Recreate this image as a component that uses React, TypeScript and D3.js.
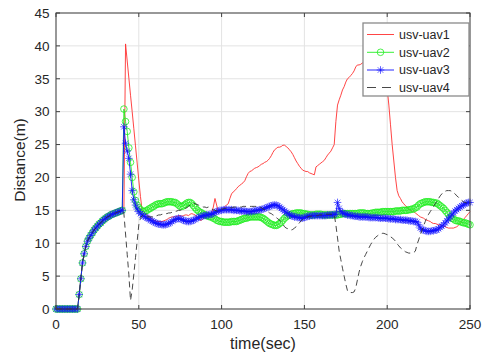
import React from 'react';
import * as d3 from 'd3';

// time samples (sec), every 1 s
const timeSec: number[] = d3.range(0, 251, 1);

// shared start-up phase, t = 0..40 s
const startPhase: number[] = [
  0, 0, 0, 0, 0, 0, 0, 0, 0, 0, 0, 0, 0,
  0.0, 2.2, 4.6, 7.0, 8.4, 9.5, 10.3, 10.8, 11.2, 11.6, 12.0, 12.3, 12.6, 12.9, 13.1,
  13.4, 13.6, 13.8, 14.0, 14.1, 14.3, 14.4, 14.5, 14.6, 14.7, 14.8, 14.9, 15.0,
];

// t = 41..250 s
const uav1Tail: number[] = [
  15.0, 40.3, 37.7, 35.1, 32.5, 30.0, 27.4, 24.8, 22.2, 19.6,
  17.1, 15.0, 14.7, 14.5, 14.3, 14.1, 13.9, 13.7, 13.5, 13.4,
  13.3, 13.3, 13.3, 13.3, 13.4, 13.5, 13.6, 13.8, 13.9, 14.0,
  14.0, 14.0, 14.1, 14.2, 14.2, 14.1, 14.2, 14.3, 14.3, 14.2,
  14.4, 14.5, 14.4, 14.3, 14.0, 13.8, 13.5, 13.5, 13.8, 14.0,
  14.2, 14.3, 14.4, 14.6, 15.5, 16.8, 15.8, 14.8, 14.8, 15.0,
  15.3, 15.6, 15.8, 16.0, 16.8, 17.5, 17.8, 18.0, 18.3, 18.6,
  18.8, 19.0, 19.2, 19.5, 20.1, 20.6, 20.9, 21.0, 21.2, 21.4,
  21.5, 21.6, 21.8, 22.0, 22.1, 22.3, 22.4, 22.6, 22.9, 23.3,
  23.8, 24.2, 24.4, 24.6, 24.6, 24.7, 24.9, 24.9, 24.7, 24.5,
  24.2, 23.9, 23.5, 23.0, 22.5, 22.1, 21.7, 21.4, 21.1, 21.0,
  20.9, 20.9, 20.7, 20.6, 20.5, 20.4, 21.6, 21.8, 22.0, 22.2,
  22.4, 22.6, 23.0, 23.4, 23.7, 24.0, 24.5, 25.0, 28.5, 31.0,
  31.8, 32.5, 33.3, 33.8, 34.5, 35.0, 35.2, 35.5, 35.8, 36.2,
  36.8, 37.1, 37.1, 37.2, 37.4, 37.5, 37.6, 37.6, 37.7, 37.7,
  37.8, 37.8, 37.8, 37.7, 37.6, 37.5, 37.2, 36.5, 35.2, 33.5,
  31.0, 28.0, 25.0, 22.5, 20.0, 18.0, 17.2, 16.8, 16.3, 16.0,
  15.7, 15.5, 15.2, 15.0, 14.9, 14.8, 14.6, 14.4, 14.2, 14.0,
  13.9, 13.8, 13.6, 13.5, 13.4, 13.3, 13.1, 13.0, 13.0, 12.9,
  12.8, 12.8, 12.7, 12.6, 12.5, 12.4, 12.3, 12.3, 12.3, 12.3,
  12.4, 12.5, 12.7, 13.0, 13.3, 13.6, 13.9, 14.2, 14.5, 14.8,
];

const uav2Tail: number[] = [
  30.4, 28.5, 27.0, 24.5, 22.3, 20.0, 17.8, 16.5, 15.8, 15.4,
  15.1, 14.9, 14.8, 14.9, 15.0, 15.2, 15.3, 15.5, 15.6, 15.8,
  15.9, 16.0, 16.0, 16.0, 16.1, 16.2, 16.3, 16.3, 16.3, 16.3,
  16.2, 16.2, 16.0, 15.8, 15.6, 15.6, 15.7, 15.9, 16.1, 16.2,
  16.2, 16.0, 15.7, 15.4, 15.1, 14.9, 14.7, 14.6, 14.4, 14.3,
  14.2, 14.1, 14.0, 14.0, 13.8, 13.7, 13.5, 13.4, 13.3, 13.3,
  13.2, 13.2, 13.2, 13.2, 13.2, 13.3, 13.3, 13.3, 13.3, 13.4,
  13.5, 13.6, 13.7, 13.8, 13.8, 13.9, 14.0, 14.0, 14.0, 14.0,
  14.0, 14.0, 14.0, 13.9, 13.8, 13.6, 13.4, 13.2, 13.0, 12.9,
  12.8, 12.7, 12.7, 12.8, 13.0, 13.2, 13.5, 13.8, 14.0, 14.2,
  14.3, 14.4, 14.5, 14.5, 14.6, 14.6, 14.6, 14.6, 14.5, 14.5,
  14.4, 14.4, 14.3, 14.3, 14.3, 14.3, 14.4, 14.4, 14.4, 14.4,
  14.3, 14.3, 14.3, 14.3, 14.3, 14.3, 14.3, 14.3, 14.3, 14.3,
  14.4, 14.4, 14.5, 14.5, 14.5, 14.5, 14.5, 14.5, 14.5, 14.5,
  14.5, 14.5, 14.6, 14.6, 14.6, 14.6, 14.5, 14.5, 14.5, 14.5,
  14.6, 14.6, 14.7, 14.7, 14.7, 14.7, 14.8, 14.8, 14.8, 14.8,
  14.8, 14.8, 14.8, 14.8, 14.9, 14.9, 14.9, 14.9, 15.0, 15.0,
  15.0, 15.0, 15.1, 15.1, 15.2, 15.2, 15.4, 15.5, 15.8, 16.0,
  16.1, 16.2, 16.3, 16.3, 16.3, 16.3, 16.2, 16.2, 16.1, 16.1,
  15.9, 15.7, 15.5, 15.3, 15.0, 14.7, 14.4, 14.0, 13.8, 13.7,
  13.5, 13.4, 13.4, 13.3, 13.2, 13.1, 13.1, 13.0, 12.9, 12.8,
];

const uav3Tail: number[] = [
  27.7, 25.2, 24.0, 22.9, 20.5, 18.0, 16.6, 15.8, 15.2, 14.8,
  14.5, 14.3, 14.1, 14.0, 13.8, 13.7, 13.5, 13.4, 13.2, 13.1,
  13.0, 12.9, 12.9, 12.8, 12.8, 12.8, 12.9, 13.0, 13.1, 13.3,
  13.5, 13.6, 13.7, 13.8, 13.7, 13.6, 13.5, 13.4, 13.3, 13.3,
  13.3, 13.4, 13.5, 13.6, 13.8, 13.9, 14.0, 14.1, 14.2, 14.2,
  14.3, 14.3, 14.4, 14.4, 14.5, 14.7, 14.8, 14.9, 15.0, 15.0,
  15.1, 15.1, 15.1, 15.1, 15.1, 15.1, 15.0, 15.0, 15.0, 15.0,
  14.9, 14.9, 14.9, 14.9, 14.8, 14.8, 14.8, 14.8, 14.9, 14.9,
  15.0, 15.0, 15.1, 15.1, 15.2, 15.3, 15.4, 15.5, 15.6, 15.7,
  15.8, 15.8, 15.8, 15.7, 15.5, 15.3, 15.1, 14.9, 14.7, 14.5,
  14.3, 14.2, 14.1, 14.0, 14.0, 13.9, 13.9, 13.8, 13.8, 13.9,
  14.0, 14.1, 14.1, 14.2, 14.2, 14.2, 14.2, 14.2, 14.2, 14.2,
  14.2, 14.2, 14.2, 14.3, 14.3, 14.3, 14.3, 14.4, 14.4, 16.2,
  15.3, 14.8, 14.6, 14.5, 14.4, 14.3, 14.3, 14.2, 14.2, 14.1,
  14.1, 14.1, 14.0, 14.0, 14.0, 14.0, 14.0, 14.0, 13.9, 13.9,
  13.9, 13.9, 13.9, 13.9, 13.8, 13.8, 13.8, 13.8, 13.8, 13.8,
  13.7, 13.7, 13.7, 13.7, 13.6, 13.6, 13.6, 13.6, 13.5, 13.5,
  13.5, 13.5, 13.4, 13.4, 13.4, 13.3, 13.3, 13.2, 12.8, 12.3,
  12.1, 12.0, 11.9, 11.8, 11.8, 11.8, 11.9, 11.9, 12.0, 12.0,
  12.2, 12.4, 12.6, 12.8, 13.1, 13.4, 13.7, 14.0, 14.3, 14.6,
  14.9, 15.1, 15.3, 15.5, 15.7, 15.8, 16.0, 16.1, 16.2, 16.2,
];

const uav4Tail: number[] = [
  14.5, 11.4, 8.3, 5.2, 1.3, 2.9, 5.3, 7.8, 10.3, 12.8,
  13.8, 14.2, 14.1, 14.1, 14.0, 14.0, 14.0, 14.0, 14.1, 14.1,
  14.2, 14.3, 14.3, 14.4, 14.4, 14.5, 14.5, 14.6, 14.6, 14.7,
  14.7, 14.8, 14.9, 15.0, 15.0, 15.1, 15.2, 15.3, 15.4, 15.6,
  15.8, 15.9, 16.1, 16.0, 15.9, 15.8, 15.7, 15.6, 15.5, 15.5,
  15.4, 15.5, 15.4, 15.2, 15.1, 15.0, 14.9, 14.8, 15.0, 15.2,
  15.2, 15.3, 15.3, 15.4, 15.4, 15.4, 15.5, 15.5, 15.5, 15.5,
  15.5, 15.5, 15.6, 15.6, 15.6, 15.6, 15.6, 15.6, 15.6, 15.6,
  15.6, 15.5, 15.5, 15.4, 15.2, 15.1, 14.9, 14.8, 14.6, 14.5,
  14.3, 14.2, 13.9, 13.7, 13.5, 13.2, 12.9, 12.5, 12.3, 12.2,
  12.1, 12.0, 12.1, 12.3, 12.5, 12.8, 13.1, 13.4, 13.6, 13.8,
  13.9, 14.0, 14.1, 14.1, 14.2, 14.2, 14.2, 14.2, 14.3, 14.3,
  14.3, 14.3, 14.4, 14.4, 14.4, 14.4, 14.4, 14.4, 12.8, 10.8,
  8.8, 7.5, 6.2, 5.0, 3.8, 2.8, 2.5, 2.5, 2.5, 2.6,
  3.2, 4.4, 5.6, 6.5, 7.2, 7.8, 8.3, 8.8, 9.3, 9.8,
  10.2, 10.6, 10.9, 11.1, 11.3, 11.4, 11.5, 11.5, 11.4, 11.3,
  11.2, 11.0, 10.8, 10.6, 10.3, 9.9, 9.6, 9.3, 9.1, 8.9,
  8.7, 8.6, 8.5, 8.5, 8.5, 8.6, 8.8, 9.8, 10.5, 11.3,
  12.0, 12.7, 13.3, 14.0, 14.4, 14.8, 15.2, 15.6, 16.0, 16.4,
  16.8, 17.2, 17.5, 17.8, 17.9, 18.0, 18.0, 18.0, 17.9, 17.7,
  17.5, 17.2, 17.0, 16.7, 16.5, 16.3, 16.2, 16.1, 16.0, 16.0,
];

const uav1: number[] = startPhase.concat(uav1Tail);
const uav2: number[] = startPhase.concat(uav2Tail);
const uav3: number[] = startPhase.concat(uav3Tail);
const uav4: number[] = startPhase.concat(uav4Tail);

const seriesNames = ['usv-uav1', 'usv-uav2', 'usv-uav3', 'usv-uav4'];
const xTicks = [0, 50, 100, 150, 200, 250];
const yTicks = [0, 5, 10, 15, 20, 25, 30, 35, 40, 45];

const W = 486;
const H = 355;
const FONT = '"Liberation Sans", Arial, sans-serif';
const AX = '#404040';
const RED = '#ff3030';
const GREEN = '#22ee22';
const BLUE = '#1010ff';
const BLACK = '#333333';

function starPath(cx: number, cy: number, s: number) {
  const d = s * 0.72;
  return `M${cx - s},${cy}L${cx + s},${cy}M${cx},${cy - s}L${cx},${cy + s}` +
    `M${cx - d},${cy - d}L${cx + d},${cy + d}M${cx - d},${cy + d}L${cx + d},${cy - d}`;
}

export default function App() {
  const x = d3.scaleLinear().domain([0, 250]).range([56, 470]);
  const y = d3.scaleLinear().domain([0, 45]).range([309, 13]);
  const [x0, x1] = x.range();
  const [y0, y1] = y.range();

  const line = d3
    .line<number>()
    .x((_, i) => x(timeSec[i]))
    .y((d) => y(d));

  const lx0 = 367;
  const lx1 = 394;
  const lmid = (lx0 + lx1) / 2;
  const legendRows = [34.5, 52.3, 70, 87.5];

  return (
    <svg
      width={W}
      height={H}
      style={{ position: 'absolute', left: 0, top: 0, background: '#fff' }}
      fontFamily={FONT}
    >
      <rect x={0} y={0} width={W} height={H} fill="#fff" />
      {/* grid */}
      <g stroke="#e3e3e3" strokeWidth={1}>
        {xTicks.map((t) => (
          <line key={'gx' + t} x1={x(t)} x2={x(t)} y1={y1} y2={y0} />
        ))}
        {yTicks.map((t) => (
          <line key={'gy' + t} x1={x0} x2={x1} y1={y(t)} y2={y(t)} />
        ))}
      </g>

      {/* series */}
      <path d={line(uav1) || ''} fill="none" stroke={RED} strokeWidth={0.9} />
      <path d={line(uav2) || ''} fill="none" stroke={GREEN} strokeWidth={0.9} />
      <g fill="none" stroke={GREEN} strokeWidth={0.8}>
        {uav2.map((v, i) => (
          <circle key={i} cx={x(timeSec[i])} cy={y(v)} r={3.3} />
        ))}
      </g>
      <path d={line(uav3) || ''} fill="none" stroke={BLUE} strokeWidth={0.9} />
      <g fill="none" stroke={BLUE} strokeWidth={0.65}>
        {uav3.map((v, i) => (
          <path key={i} d={starPath(x(timeSec[i]), y(v), 3.8)} />
        ))}
      </g>
      <path
        d={line(uav4) || ''}
        fill="none"
        stroke={BLACK}
        strokeWidth={0.9}
        strokeDasharray="6,4"
      />

      {/* axes box */}
      <rect x={x0} y={y1} width={x1 - x0} height={y0 - y1} fill="none" stroke={AX} strokeWidth={1} />
      <g stroke={AX} strokeWidth={1}>
        {xTicks.map((t) => (
          <g key={'tx' + t}>
            <line x1={x(t)} x2={x(t)} y1={y0} y2={y0 - 4} />
            <line x1={x(t)} x2={x(t)} y1={y1} y2={y1 + 4} />
          </g>
        ))}
        {yTicks.map((t) => (
          <g key={'ty' + t}>
            <line x1={x0} x2={x0 + 4} y1={y(t)} y2={y(t)} />
            <line x1={x1} x2={x1 - 4} y1={y(t)} y2={y(t)} />
          </g>
        ))}
      </g>
      <g fill="#262626" fontSize={13.5}>
        {xTicks.map((t) => (
          <text key={'lx' + t} x={x(t)} y={329} textAnchor="middle">
            {t}
          </text>
        ))}
        {yTicks.map((t) => (
          <text key={'ly' + t} x={49.5} y={y(t) + 4.8} textAnchor="end">
            {t}
          </text>
        ))}
      </g>
      <text x={263} y={348.5} textAnchor="middle" fontSize={16} fill="#262626">
        time(sec)
      </text>
      <text
        transform="translate(25,160) rotate(-90)"
        textAnchor="middle"
        fontSize={15.5}
        fill="#262626"
      >
        Distance(m)
      </text>

      {/* legend */}
      <rect x={363} y={23} width={106} height={73} fill="#fff" stroke="#8a8a8a" strokeWidth={1.3} />
      <line x1={lx0} x2={lx1} y1={legendRows[0]} y2={legendRows[0]} stroke={RED} strokeWidth={0.9} />
      <line x1={lx0} x2={lx1} y1={legendRows[1]} y2={legendRows[1]} stroke={GREEN} strokeWidth={0.9} />
      <circle cx={lmid} cy={legendRows[1]} r={3.3} fill="none" stroke={GREEN} strokeWidth={0.8} />
      <line x1={lx0} x2={lx1} y1={legendRows[2]} y2={legendRows[2]} stroke={BLUE} strokeWidth={0.9} />
      <path d={starPath(lmid, legendRows[2], 3.8)} fill="none" stroke={BLUE} strokeWidth={0.65} />
      <line
        x1={lx0}
        x2={lx1}
        y1={legendRows[3]}
        y2={legendRows[3]}
        stroke={BLACK}
        strokeWidth={0.9}
        strokeDasharray="9,6"
      />
      <g fontSize={12.5} fill="#262626">
        {seriesNames.map((n, i) => (
          <text key={n} x={399} y={legendRows[i] + 4.3}>
            {n}
          </text>
        ))}
      </g>
    </svg>
  );
}
